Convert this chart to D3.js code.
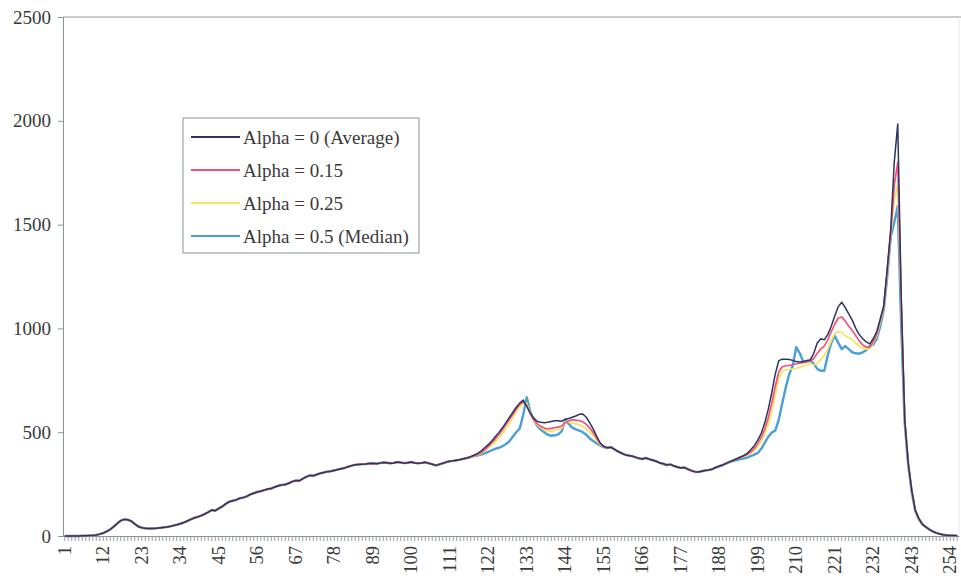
<!DOCTYPE html>
<html>
<head>
<meta charset="utf-8">
<script src="https://cdn.jsdelivr.net/npm/d3@7"></script>
<style>
  html, body { margin: 0; padding: 0; background: #fff; }
  svg { display: block; }
  text { font-family: "Liberation Serif", "Times New Roman", serif; }
</style>
</head>
<body>
<svg id="chart" width="961" height="578"></svg>
<script>
// Gray levels 1..256
const categories = d3.range(1, 257);

// Tick labels shown on the axes
const xTickLabels = [1, 12, 23, 34, 45, 56, 67, 78, 89, 100, 111, 122, 133, 144, 155, 166, 177, 188, 199, 210, 221, 232, 243, 254];
const yTickLabels = [0, 500, 1000, 1500, 2000, 2500];

const seriesNames = ["Alpha = 0 (Average)", "Alpha = 0.15", "Alpha = 0.25", "Alpha = 0.5 (Median)"];

const alpha0 = [
  0,0,0,0,0,1,1,2,3,5,
  9,14,22,32,45,60,74,80,78,72,
  58,46,40,37,36,36,37,39,41,43,
  46,50,54,59,65,72,80,87,92,98,
  106,115,125,122,133,142,155,165,170,174,
  182,185,191,200,206,212,216,221,226,229,
  236,242,246,248,254,262,267,266,276,285,
  292,290,296,302,306,310,312,316,320,324,
  328,334,339,343,345,346,347,349,350,348,
  351,354,353,350,352,356,354,351,353,356,
  352,350,352,355,350,346,340,345,350,356,
  360,362,365,368,372,376,382,390,398,410,
  425,440,458,478,498,520,545,570,595,620,
  640,655,625,592,568,552,548,545,548,552,
  555,555,553,562,566,572,578,586,588,572,
  545,515,480,448,432,425,428,418,408,400,
  392,388,385,380,374,371,376,370,365,360,
  352,348,342,345,338,332,328,330,322,315,
  310,308,312,316,318,322,330,336,342,350,
  358,365,372,380,388,398,415,435,462,495,
  545,610,690,780,845,852,852,850,846,840,
  838,840,845,848,880,930,950,945,970,1010,
  1060,1105,1126,1100,1070,1040,1000,970,950,935,
  925,950,985,1045,1110,1290,1480,1800,1985,1150,
  560,350,220,125,85,58,44,32,22,15,
  10,6,4,3,2,1
];

const alpha015 = [
  0,0,0,0,0,1,1,2,3,5,
  9,14,22,32,45,60,74,80,78,72,
  58,46,40,37,36,36,37,39,41,43,
  46,50,54,59,65,72,80,87,92,98,
  106,115,125,122,133,142,155,165,170,174,
  182,185,191,200,206,212,216,221,226,229,
  236,242,246,248,254,262,267,266,276,285,
  292,290,296,302,306,310,312,316,320,324,
  328,334,339,343,345,346,347,349,350,348,
  351,354,353,350,352,356,354,351,353,356,
  352,350,352,355,350,346,340,345,350,356,
  360,362,365,368,372,376,382,386,392,402,
  415,432,450,468,488,510,535,560,585,612,
  635,645,628,590,560,540,528,520,516,518,
  522,524,530,546,555,560,558,556,550,538,
  520,498,470,444,430,425,428,418,408,400,
  392,388,385,380,374,371,376,370,365,360,
  352,348,342,345,338,332,328,330,322,315,
  310,308,312,316,318,322,330,336,342,350,
  358,365,372,380,385,393,405,420,445,475,
  515,570,640,720,790,815,820,822,825,830,
  832,835,838,842,855,880,900,915,945,985,
  1020,1050,1055,1035,1010,990,965,940,920,910,
  910,935,975,1040,1105,1275,1460,1690,1800,1130,
  555,348,218,124,85,58,44,32,22,15,
  10,6,4,3,2,1
];

const alpha025 = [
  0,0,0,0,0,1,1,2,3,5,
  9,14,22,32,45,60,74,80,78,72,
  58,46,40,37,36,36,37,39,41,43,
  46,50,54,59,65,72,80,87,92,98,
  106,115,125,122,133,142,155,165,170,174,
  182,185,191,200,206,212,216,221,226,229,
  236,242,246,248,254,262,267,266,276,285,
  292,290,296,302,306,310,312,316,320,324,
  328,334,339,343,345,346,347,349,350,348,
  351,354,353,350,352,356,354,351,353,356,
  352,350,352,355,350,346,340,345,350,356,
  360,362,365,368,372,376,380,384,390,398,
  410,425,440,456,472,492,515,540,570,600,
  625,640,640,592,558,535,522,512,505,505,
  508,512,520,552,548,545,540,535,528,515,
  500,484,460,440,430,425,428,418,408,400,
  392,388,385,380,374,371,376,370,365,360,
  352,348,342,345,338,332,328,330,322,315,
  310,308,312,316,318,322,330,336,342,350,
  358,365,372,380,382,388,398,410,430,455,
  490,540,600,680,760,795,800,802,805,808,
  812,818,825,830,825,830,850,870,900,940,
  975,985,980,965,955,945,930,915,905,900,
  905,930,965,1030,1100,1265,1450,1620,1690,1110,
  550,346,216,123,84,58,44,32,22,15,
  10,6,4,3,2,1
];

const alpha05 = [
  0,0,0,0,0,1,1,2,3,5,
  9,14,22,32,45,60,74,80,78,72,
  58,46,40,37,36,36,37,39,41,43,
  46,50,54,59,65,72,80,87,92,98,
  106,115,125,122,133,142,155,165,170,174,
  182,185,191,200,206,212,216,221,226,229,
  236,242,246,248,254,262,267,266,276,285,
  292,290,296,302,306,310,312,316,320,324,
  328,334,339,343,345,346,347,349,350,348,
  351,354,353,350,352,356,354,351,353,356,
  352,350,352,355,350,346,340,345,350,356,
  360,362,365,368,372,376,380,385,388,392,
  398,405,413,420,425,432,442,455,478,500,
  518,585,668,598,560,530,512,500,488,483,
  485,490,505,562,540,522,514,508,500,488,
  470,458,446,436,428,424,428,418,408,400,
  392,388,385,380,374,371,376,370,365,360,
  352,348,342,345,338,332,328,330,322,315,
  310,308,312,316,318,322,330,336,342,350,
  356,362,366,370,374,378,385,392,400,420,
  450,478,498,508,560,640,715,780,820,910,
  880,840,842,845,830,805,796,796,870,930,
  965,930,900,915,900,885,880,878,885,895,
  915,922,950,1010,1090,1250,1440,1510,1590,1000,
  540,340,212,120,82,56,43,31,22,15,
  10,6,4,3,2,1
];

const seriesValues = [alpha0, alpha015, alpha025, alpha05];
const seriesColors = ["#2b3560", "#f2517d", "#f4e65c", "#4a9fd8"];
const seriesWidths = [1.5, 1.7, 1.7, 2.4];

const svg = d3.select("#chart");
const W = 961, H = 578;
svg.append("rect").attr("width", W).attr("height", H).attr("fill", "#fff");

const plot = { left: 63, right: 959, top: 17, bottom: 536 };

const x = d3.scaleBand().domain(categories).range([plot.left, plot.right]).padding(0);
const y = d3.scaleLinear().domain([0, 2500]).range([plot.bottom, plot.top]);
const cx = d => x(d) + x.bandwidth() / 2;

const axisColor = "#8c9494";
const textColor = "#3a3a3a";

// plot area frame: solid top and left, faint right edge
svg.append("line")
  .attr("x1", plot.left).attr("x2", W).attr("y1", plot.top).attr("y2", plot.top)
  .attr("stroke", axisColor).attr("stroke-width", 1);
svg.append("line")
  .attr("x1", plot.right).attr("x2", plot.right).attr("y1", plot.top).attr("y2", plot.bottom)
  .attr("stroke", "#e4eaea").attr("stroke-width", 1);

// y axis
const yAxis = svg.append("g")
  .attr("transform", `translate(${plot.left},0)`)
  .call(d3.axisLeft(y).tickValues(yTickLabels).tickSize(5).tickPadding(7).tickFormat(d3.format("d")));
yAxis.select(".domain").attr("stroke", axisColor);
yAxis.selectAll(".tick line").attr("stroke", axisColor);
yAxis.selectAll("text")
  .attr("fill", textColor).attr("font-size", 19)
  .attr("font-family", '"Liberation Serif", "Times New Roman", serif');

// x axis: a tick for every category, labels every 11th
const labelSet = new Set(xTickLabels);
const xAxis = svg.append("g")
  .attr("transform", `translate(0,${plot.bottom})`)
  .call(d3.axisBottom(x).tickValues(categories).tickSize(5).tickSizeOuter(0)
    .tickFormat(d => labelSet.has(d) ? String(d) : ""));
xAxis.select(".domain").attr("stroke", axisColor);
xAxis.selectAll(".tick line").attr("stroke", axisColor).attr("stroke-width", 0.9);
xAxis.selectAll(".tick text")
  .attr("fill", textColor).attr("font-size", 18.5)
  .attr("font-family", '"Liberation Serif", "Times New Roman", serif')
  .attr("text-anchor", "end")
  .attr("dominant-baseline", "central")
  .attr("dy", null)
  .attr("y", 0)
  .attr("transform", "translate(0,10) rotate(-90)");

// series lines (median first, average on top)
const line = d3.line()
  .x((d, i) => cx(categories[i]))
  .y(d => y(d));

const order = [3, 2, 1, 0];
order.forEach(k => {
  svg.append("path")
    .datum(seriesValues[k])
    .attr("fill", "none")
    .attr("stroke", seriesColors[k])
    .attr("stroke-width", seriesWidths[k])
    .attr("stroke-linejoin", "round")
    .attr("d", line);
});

// legend
const legend = svg.append("g").attr("transform", "translate(183,118)");
legend.append("rect")
  .attr("width", 236).attr("height", 135)
  .attr("fill", "#fff").attr("stroke", axisColor).attr("stroke-width", 1);
seriesNames.forEach((name, k) => {
  const ry = 19 + k * 33;
  legend.append("line")
    .attr("x1", 8).attr("x2", 57).attr("y1", ry).attr("y2", ry)
    .attr("stroke", seriesColors[k]).attr("stroke-width", 2);
  legend.append("text")
    .attr("x", 60).attr("y", ry)
    .attr("dominant-baseline", "central")
    .attr("font-size", 19)
    .attr("fill", textColor)
    .text(name);
});
</script>
</body>
</html>
